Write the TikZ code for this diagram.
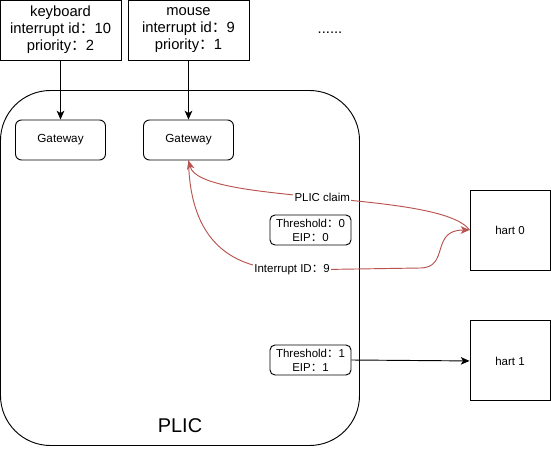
\documentclass[tikz,border=0pt]{standalone}
\usepackage{fontspec}
\setmainfont{Liberation Sans}
\newfontfamily\cjk{Noto Sans CJK SC}
\usetikzlibrary{
        arrows.meta,
        positioning
    }
\definecolor{claimred}{HTML}{B85450}
\newcommand{\fcolon}{{\cjk ：}}
\tikzset{>={Stealth[length=7.5pt,width=6.5pt,inset=2pt]}}
\tikzset{
    device/.style={draw,line width=0.8pt,inner sep=0pt,align=center,
        minimum width=3.63cm,minimum height=1.8cm,
        font=\fontsize{12.6}{14.6}\selectfont},
    gateway/.style={draw,line width=0.8pt,rounded corners=0.18cm,inner sep=0pt,
        minimum width=2.7cm,minimum height=1.2cm,
        font=\fontsize{10}{12}\selectfont},
    thres/.style={draw,line width=0.8pt,rounded corners=0.15cm,inner sep=0pt,align=center,
        minimum width=2.43cm,minimum height=0.9cm,
        font=\fontsize{9.8}{12}\selectfont},
    hart/.style={draw,line width=0.8pt,inner sep=0pt,minimum size=2.4cm,
        font=\fontsize{9.8}{11.5}\selectfont},
    wire/.style={line width=0.8pt,->},
    redwire/.style={line width=0.8pt,->,draw=claimred},
    redlabel/.style={fill=white,inner sep=1pt,anchor=center,
        font=\fontsize{9.8}{11.5}\selectfont}
}

\begin{document}
\begin{tikzpicture}[x=0.03cm,y=-0.03cm]
\useasboundingbox (0,0) rectangle (551,451);
    % PLIC container
    \node[draw,line width=0.8pt,rounded corners=1.5cm,minimum width=10.77cm,
          minimum height=10.65cm] (plic) at (180,268) {};
    \node[font=\fontsize{17}{20}\selectfont] (plicname) at (180,426) {PLIC};

    % devices
    \node[device] (kbd)   at (60.5,30)  {keyboard\\interrupt id\fcolon 10\\priority\fcolon 2};
    \node[device] (mouse) at (188.5,30) {mouse\\interrupt id\fcolon 9\\priority\fcolon 1};
    \node[font=\fontsize{12.6}{14.6}\selectfont] (more) at (330,33) {......};

    % gateways
    \node[gateway] (gw1) at (60.5,140)  {Gateway};
    \node[gateway] (gw2) at (188.5,140) {Gateway};

    % per-hart thresholds
    \node[thres] (thr0) at (310.5,230) {Threshold\fcolon 0\\EIP\fcolon 0};
    \node[thres] (thr1) at (310.5,360) {Threshold\fcolon 1\\EIP\fcolon 1};

    % harts
    \node[hart] (hart0) at (510,230) {hart 0};
    \node[hart] (hart1) [below=1.5cm of hart0] {hart 1};

    \path[wire]
        (kbd.south)   edge (gw1.north)
        (mouse.south) edge (gw2.north)
        (thr1.east)   edge (hart1.west);

    \draw[redwire] (hart0.west) .. controls (440,190) and (200,205) .. (gw2.south)
        node[redlabel,pos=0.5] {PLIC claim};
    \draw[redwire] (gw2.south) .. controls (190,240) and (230,270) .. (292,270)
        node[redlabel] {Interrupt ID\fcolon 9}
        -- (420,268) .. controls (450,268) and (430,230) .. (hart0.west);
\end{tikzpicture}
\end{document}
